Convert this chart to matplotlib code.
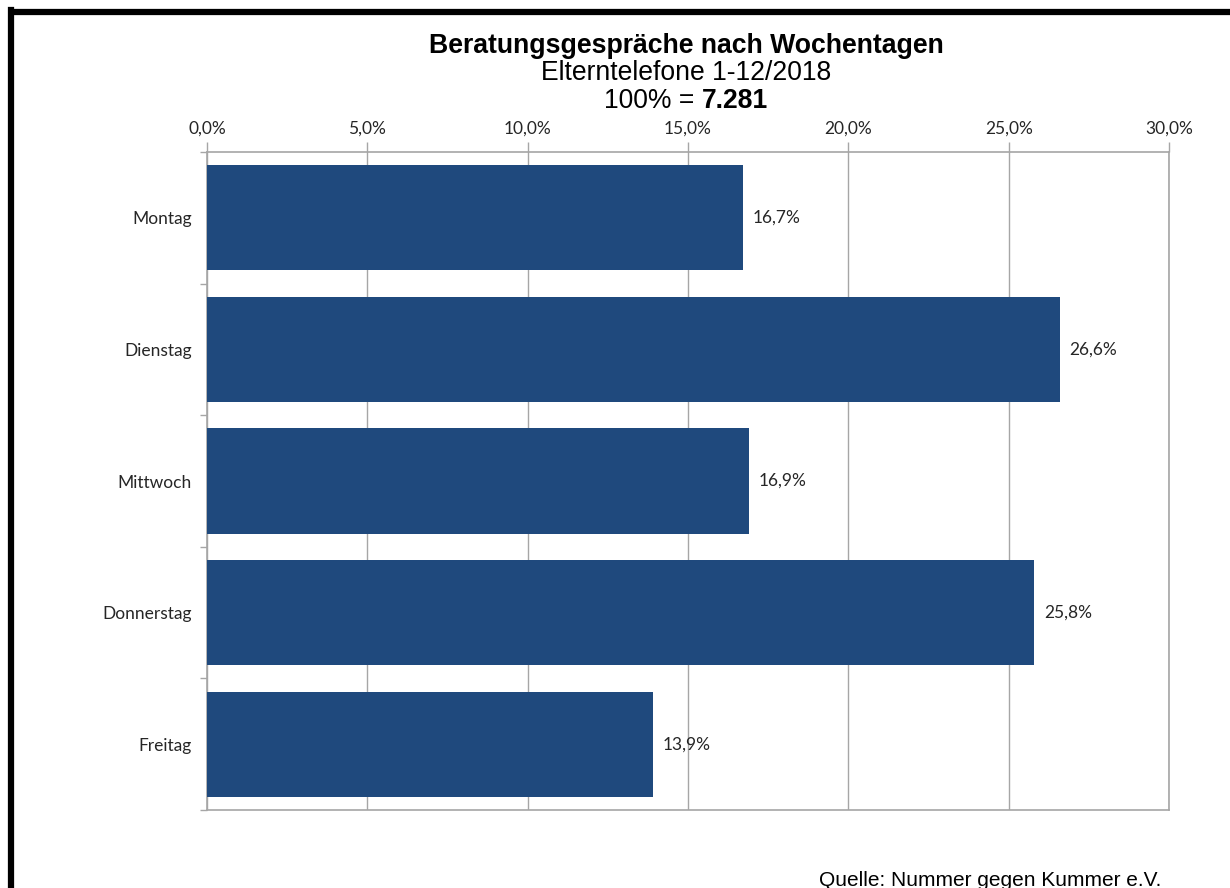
import matplotlib
matplotlib.use("Agg")
import matplotlib.pyplot as plt
from matplotlib.ticker import FuncFormatter

days = ["Montag", "Dienstag", "Mittwoch", "Donnerstag", "Freitag"]
shares = [16.7, 26.6, 16.9, 25.8, 13.9]
xticks = [0, 5, 10, 15, 20, 25, 30]

title = "Beratungsgespräche nach Wochentagen"
subtitle = "Elterntelefone 1-12/2018"
total_prefix = "100% = "
total_value = "7.281"
source = "Quelle: Nummer gegen Kummer e.V."

W, H = 1230, 888
fig = plt.figure(figsize=(W / 100, H / 100), dpi=100)
fig.patch.set_facecolor("white")

ax = fig.add_axes([207 / W, 1 - 810 / H, (1169 - 207) / W, (810 - 152) / H])

bar_color = "#1F497D"
grid_color = "#A6A6A6"
tick_font = "Lato"
fs = 12.5

ypos = list(range(len(days)))
ax.barh(ypos, shares, height=0.8, color=bar_color, zorder=3)
ax.set_ylim(len(days) - 0.5, -0.5)
ax.set_xlim(0, 30)

ax.set_xticks(xticks)
ax.xaxis.set_major_formatter(FuncFormatter(lambda v, p: f"{v:.1f}%".replace(".", ",")))
ax.xaxis.tick_top()
ax.tick_params(axis="x", direction="out", length=7, width=1, color=grid_color,
               labelsize=fs, pad=4, labelcolor="#262626")
for lab in ax.get_xticklabels():
    lab.set_fontfamily(tick_font)

ax.set_yticks(ypos)
ax.set_yticklabels(days, fontfamily=tick_font, fontsize=fs, color="#262626")
ax.tick_params(axis="y", length=0, pad=11)
ax.set_yticks([i + 0.5 for i in range(-1, len(days))], minor=True)
ax.tick_params(axis="y", which="minor", length=5, width=1, color=grid_color, direction="out")

ax.grid(axis="x", color=grid_color, linewidth=1, zorder=0)
for side in ["top", "bottom", "left", "right"]:
    ax.spines[side].set_color(grid_color)
    ax.spines[side].set_linewidth(1.2)

for y, v in zip(ypos, shares):
    ax.text(v + 0.3, y, f"{v:.1f}%".replace(".", ","), va="center", ha="left",
            fontfamily=tick_font, fontsize=fs, color="#262626", zorder=4)

# titles
cx = 686 / W
fig.text(cx, 1 - 53 / H, title, ha="center", va="baseline",
         fontfamily="Liberation Sans", fontweight="bold", fontsize=19.2)
fig.text(cx, 1 - 80 / H, subtitle, ha="center", va="baseline",
         fontfamily="Liberation Sans", fontsize=19.1)
pre = fig.text(604 / W, 1 - 108 / H, total_prefix, ha="left", va="baseline",
               fontfamily="Liberation Sans", fontsize=19.1)
fig.canvas.draw()
bb = pre.get_window_extent()
fig.text(bb.x1 / W, 1 - 108 / H, total_value, ha="left", va="baseline",
         fontfamily="Liberation Sans", fontweight="bold", fontsize=19.1)

fig.text(1161 / W, 1 - 886 / H, source, ha="right", va="baseline",
         fontfamily="Liberation Sans", fontsize=15)

# black frame (left, top)
fig.add_artist(plt.Line2D([10.5 / W, 10.5 / W], [0, 1 - 10 / H], transform=fig.transFigure,
                          color="black", linewidth=4.5, solid_capstyle="projecting"))
fig.add_artist(plt.Line2D([10.5 / W, 1], [1 - 12.5 / H, 1 - 12.5 / H], transform=fig.transFigure,
                          color="black", linewidth=4.5, solid_capstyle="butt"))

fig.savefig("out.png", dpi=100, facecolor="white")
